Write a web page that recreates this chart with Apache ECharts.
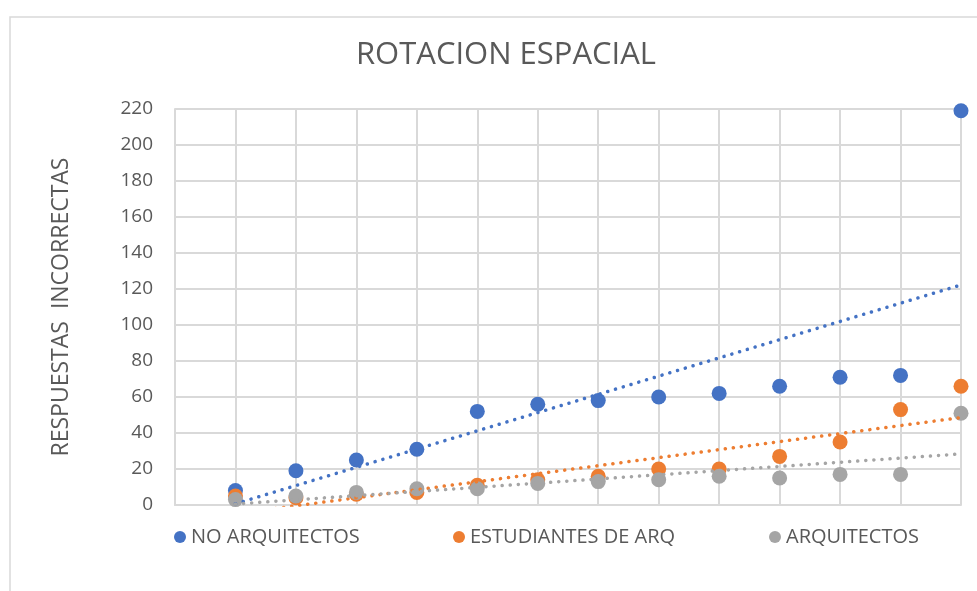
<!DOCTYPE html>
<html>
<head>
<meta charset="utf-8">
<title>ROTACION ESPACIAL</title>
<script src="https://cdn.jsdelivr.net/npm/echarts@6/dist/echarts.min.js"></script>
<style>
  html, body { margin: 0; padding: 0; background: #ffffff; }
  #chart { width: 977px; height: 591px; }
</style>
</head>
<body>
<div id="chart"></div>
<script>
// Test position of each group (1..13)
const positions = [1, 2, 3, 4, 5, 6, 7, 8, 9, 10, 11, 12, 13];

// Incorrect answers per group
const noArquitectos = [8, 19, 25, 31, 52, 56, 58, 60, 62, 66, 71, 72, 219];
const estudiantesArq = [5, 4, 6, 7, 11, 14, 16, 20, 20, 27, 35, 53, 66];
const arquitectos = [3, 5, 7, 9, 9, 12, 13, 14, 16, 15, 17, 17, 51];

const seriesNames = ['NO ARQUITECTOS', 'ESTUDIANTES DE ARQ', 'ARQUITECTOS'];
const seriesColors = ['#4472C4', '#ED7D31', '#A5A5A5'];

const yTicks = { min: 0, max: 220, interval: 20 };

const FONT = '"Open Sans", "Noto Sans", sans-serif';
const TEXT = '#595959';
const GRID = '#d9d9d9';

// Least-squares linear trend over the given points
function linearTrend(xs, ys) {
  const n = xs.length;
  const mx = xs.reduce((a, b) => a + b, 0) / n;
  const my = ys.reduce((a, b) => a + b, 0) / n;
  let sxy = 0, sxx = 0;
  for (let i = 0; i < n; i++) {
    sxy += (xs[i] - mx) * (ys[i] - my);
    sxx += (xs[i] - mx) * (xs[i] - mx);
  }
  const slope = sxy / sxx;
  const icpt = my - slope * mx;
  const x0 = xs[0], x1 = xs[n - 1];
  return [[x0, icpt + slope * x0], [x1, icpt + slope * x1]];
}

const valueSets = [noArquitectos, estudiantesArq, arquitectos];

const scatterSeries = valueSets.map((vals, i) => ({
  name: seriesNames[i],
  type: 'scatter',
  symbol: 'circle',
  symbolSize: 15,
  itemStyle: { color: seriesColors[i], opacity: 1 },
  z: 2,
  data: positions.map((x, k) => [x, vals[k]])
}));

const trendSeries = valueSets.map((vals, i) => ({
  name: seriesNames[i] + ' trend',
  type: 'line',
  symbol: 'none',
  silent: true,
  clip: true,
  z: 3,
  lineStyle: { color: seriesColors[i], width: 3.5, type: [0.1, 8], cap: 'round' },
  data: linearTrend(positions, vals)
}));

const legendLefts = [169, 448, 764];

const chart = echarts.init(document.getElementById('chart'), null, { renderer: 'canvas' });

chart.setOption({
  backgroundColor: '#ffffff',
  animation: false,
  graphic: [{
    type: 'rect',
    shape: { x: 10, y: 17, width: 1000, height: 600 },
    style: { fill: 'none', stroke: GRID, lineWidth: 1.5 },
    z: -10
  }],
  title: {
    text: 'ROTACION ESPACIAL',
    left: 501,
    textAlign: 'center',
    top: 35,
    textStyle: { fontFamily: FONT, fontSize: 31, fontWeight: 'normal', color: TEXT }
  },
  legend: seriesNames.map((name, i) => ({
    data: [name],
    left: legendLefts[i],
    top: 522,
    icon: 'circle',
    itemWidth: 12,
    itemHeight: 12,
    textStyle: { fontFamily: FONT, fontSize: 20, color: TEXT }
  })),
  grid: { left: 175, right: 16, top: 109, bottom: 86, containLabel: false },
  xAxis: {
    type: 'value',
    min: 0,
    max: 13,
    interval: 1,
    axisLine: { show: true, lineStyle: { color: GRID, width: 2 } },
    axisTick: { show: false },
    axisLabel: { show: false },
    splitLine: { show: true, lineStyle: { color: GRID, width: 2 } }
  },
  yAxis: {
    type: 'value',
    min: yTicks.min,
    max: yTicks.max,
    interval: yTicks.interval,
    name: 'RESPUESTAS  INCORRECTAS',
    nameLocation: 'middle',
    nameGap: 102,
    nameTextStyle: { fontFamily: FONT, fontSize: 23, color: TEXT },
    axisLine: { show: true, lineStyle: { color: GRID, width: 2 } },
    axisTick: { show: false },
    axisLabel: { fontFamily: FONT, fontSize: 19, color: TEXT, margin: 22 },
    splitLine: { show: true, lineStyle: { color: GRID, width: 2 } }
  },
  series: scatterSeries.concat(trendSeries)
});
</script>
</body>
</html>
